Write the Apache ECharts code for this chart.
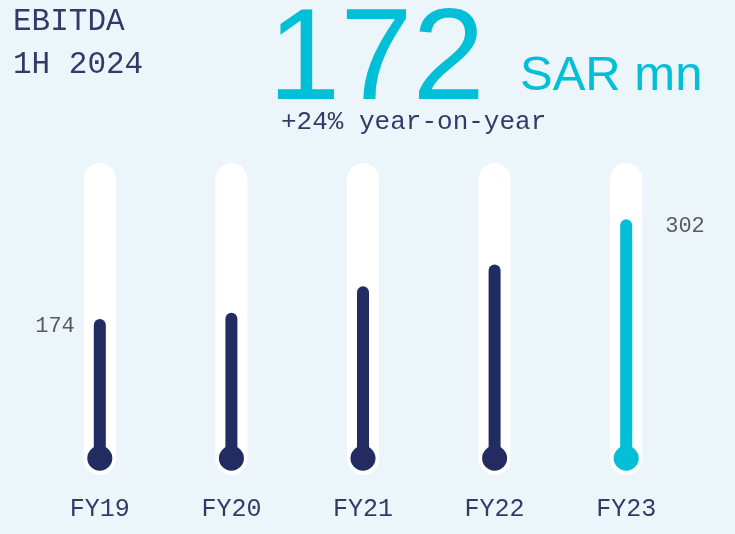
<!DOCTYPE html>
<html lang="en">
<head>
    <meta charset="UTF-8">
    <title>EBITDA 1H 2024</title>
    <script src="https://cdn.jsdelivr.net/npm/echarts@6/dist/echarts.min.js"></script>
    <style>
        html, body {
            margin: 0;
            padding: 0;
            background: #ebf5fa;
        }

        #chart {
            width: 735px;
            height: 534px;
        }
    </style>
</head>
<body>

<div id="chart"></div>

<script>
    // ------------------------- data -------------------------
    const categories = ['FY19', 'FY20', 'FY21', 'FY22', 'FY23'];
    const ebitdaValues = [174, 182, 216, 244, 302];
    const labelledIndex = [0, 4];        // only first and last bars carry a value label

    // value axis range (tube spans the whole axis)
    const axisMin = -26;
    const axisMax = 374;

    const NAVY = '#232c61';
    const CYAN = '#00bfd7';
    const TEXT = '#343a68';
    const MONO = '"Liberation Mono", "DejaVu Sans Mono", monospace';
    const SANS = '"Liberation Sans", Arial, sans-serif';

    const barColor = i => (i === categories.length - 1 ? CYAN : NAVY);

    const chart = echarts.init(document.getElementById('chart'));

    const option = {
        backgroundColor: '#ebf5fa',
        animation: false,

        graphic: [
            { type: 'text', style: { x: 13, y: 22, text: 'EBITDA', fill: TEXT, font: '31px ' + MONO, verticalAlign: 'middle' } },
            { type: 'text', style: { x: 13, y: 65, text: '1H 2024', fill: TEXT, font: '31px ' + MONO, verticalAlign: 'middle' } },
            { type: 'text', style: { x: 268, y: 63, text: '172', fill: CYAN, font: '130px ' + SANS, verticalAlign: 'middle' } },
            { type: 'text', style: { x: 520, y: 76, text: 'SAR mn', fill: CYAN, font: '49px ' + SANS, verticalAlign: 'middle' } },
            { type: 'text', style: { x: 281, y: 122, text: '+24% year-on-year', fill: TEXT, font: '26px ' + MONO, verticalAlign: 'middle' } }
        ],

        grid: {
            left: 34,
            right: 43,
            top: 163,
            bottom: 59
        },

        xAxis: {
            type: 'category',
            data: categories,
            axisLine: { show: false },
            axisTick: { show: false },
            axisLabel: {
                margin: 22,
                fontSize: 25,
                fontFamily: MONO,
                color: TEXT
            }
        },

        yAxis: {
            type: 'value',
            min: axisMin,
            max: axisMax,
            show: false
        },

        series: [
            // white tube behind each bar
            {
                type: 'custom',
                z: 1,
                silent: true,
                data: categories.map((c, i) => [i]),
                renderItem: (params, api) => {
                    const top = api.coord([api.value(0), axisMax]);
                    const bottom = api.coord([api.value(0), axisMin]);
                    const w = 32;
                    return {
                        type: 'rect',
                        shape: { x: top[0] - w / 2, y: top[1], width: w, height: bottom[1] - top[1], r: w / 2 },
                        style: { fill: '#ffffff' }
                    };
                }
            },
            // the mercury column
            {
                type: 'bar',
                z: 2,
                barWidth: 12,
                data: ebitdaValues.map((v, i) => ({
                    value: v,
                    itemStyle: { color: barColor(i), borderRadius: 6 },
                    label: labelledIndex.includes(i) ? {
                        show: true,
                        position: i === 0 ? [-19, 7] : [45, 7],
                        align: i === 0 ? 'right' : 'left',
                        verticalAlign: 'middle',
                        fontSize: 22,
                        fontFamily: MONO,
                        color: '#5b5b5b'
                    } : { show: false }
                }))
            },
            // bulb at the bottom
            {
                type: 'custom',
                z: 3,
                silent: true,
                data: categories.map((c, i) => [i]),
                renderItem: (params, api) => {
                    const p = api.coord([api.value(0), 0]);
                    return {
                        type: 'circle',
                        shape: { cx: p[0], cy: p[1] + 3.5, r: 12.5 },
                        style: { fill: barColor(params.dataIndex) }
                    };
                }
            }
        ]
    };

    chart.setOption(option);
</script>

</body>
</html>
